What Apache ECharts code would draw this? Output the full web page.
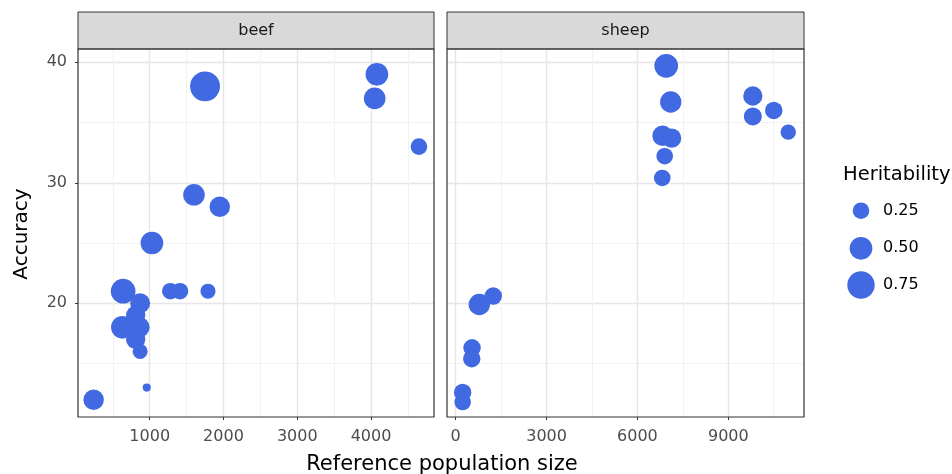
<!DOCTYPE html>
<html>
<head>
<meta charset="utf-8">
<script src="https://cdn.jsdelivr.net/npm/echarts@6/dist/echarts.min.js"></script>
<style>
  html, body { margin: 0; padding: 0; background: #fff; }
  #chart { width: 952px; height: 474px; }
</style>
</head>
<body>
<div id="chart"></div>
<script>
// beef panel
const beefX = [1750, 4080, 4050, 4650, 1600, 1950, 1030, 640, 1280, 1410, 1790, 870, 810, 630, 860, 810, 870, 960, 240];
const beefY = [38, 39, 37, 33, 29, 28, 25, 21, 21, 21, 21, 20, 19, 18, 18, 17, 16, 13, 12];
const beefH = [0.9, 0.5, 0.45, 0.25, 0.45, 0.4, 0.5, 0.6, 0.25, 0.25, 0.2, 0.38, 0.35, 0.5, 0.4, 0.35, 0.2, 0.03, 0.4];

// sheep panel
const sheepX = [6950, 7100, 9810, 10500, 9810, 10980, 6830, 7130, 6900, 6820, 1240, 780, 540, 530, 230, 230];
const sheepY = [39.7, 36.7, 37.2, 36, 35.5, 34.2, 33.9, 33.7, 32.2, 30.4, 20.6, 19.9, 16.3, 15.4, 12.6, 11.8];
const sheepH = [0.55, 0.44, 0.35, 0.28, 0.3, 0.21, 0.4, 0.35, 0.25, 0.25, 0.28, 0.44, 0.28, 0.28, 0.28, 0.25];

const panels = ['beef', 'sheep'];
const beefTicks = [1000, 2000, 3000, 4000];
const sheepTicks = [0, 3000, 6000, 9000];
const accTicks = [20, 30, 40];
const legendValues = [0.25, 0.5, 0.75];

const FONT = 'DejaVu Sans';
const BLUE = '#4169e1';

// point diameter from heritability (area-like scaling)
function dotSize(h) {
  return 2 * Math.sqrt(9.5 + 238 * h);
}

function pts(xs, ys, hs) {
  return xs.map((x, i) => [x, ys[i], hs[i]]);
}

const G = [
  { left: 78, top: 49, width: 356, height: 368 },
  { left: 447, top: 49, width: 357, height: 368 }
];

const chart = echarts.init(document.getElementById('chart'), null, { renderer: 'canvas' });

const majorLine = { show: true, lineStyle: { color: '#e6e6e6', width: 1.4 } };
const minorLine = { show: true, lineStyle: { color: '#f2f2f2', width: 1 } };

function xAxisFor(idx, min, max, split, ticks) {
  return {
    type: 'value', gridIndex: idx, min: min, max: max, splitNumber: split,
    axisLine: { show: false },
    axisTick: { show: true, length: 3, customValues: ticks, lineStyle: { color: '#333', width: 1 } },
    axisLabel: { customValues: ticks, margin: 12, formatter: v => String(v),
      color: '#4d4d4d', fontFamily: FONT, fontSize: 16 },
    splitLine: majorLine,
    minorTick: { show: false, splitNumber: 2 },
    minorSplitLine: minorLine
  };
}

function yAxisFor(idx, showLabels) {
  return {
    type: 'value', gridIndex: idx, min: 10.56, max: 41.1, splitNumber: 3,
    axisLine: { show: false },
    axisTick: { show: showLabels, length: 3, customValues: accTicks, lineStyle: { color: '#333', width: 1 } },
    axisLabel: { show: showLabels, customValues: accTicks, margin: 11, formatter: v => String(v),
      color: '#4d4d4d', fontFamily: FONT, fontSize: 16 },
    splitLine: majorLine,
    minorTick: { show: false, splitNumber: 2 },
    minorSplitLine: minorLine
  };
}

// panel borders + strips
const graphics = [];
G.forEach((g, i) => {
  graphics.push({
    type: 'rect', z: 10, silent: true,
    shape: { x: g.left, y: 12, width: g.width, height: g.top - 12 },
    style: { fill: '#d9d9d9', stroke: '#333', lineWidth: 1 }
  });
  graphics.push({
    type: 'text', z: 11, silent: true,
    x: g.left + g.width / 2, y: 31,
    style: { text: panels[i], textAlign: 'center', textVerticalAlign: 'middle',
      fill: '#1a1a1a', font: '16px "' + FONT + '"' }
  });
  graphics.push({
    type: 'rect', z: 10, silent: true,
    shape: { x: g.left, y: g.top, width: g.width, height: g.height },
    style: { fill: 'none', stroke: '#333', lineWidth: 1.2 }
  });
});

// axis titles
graphics.push({
  type: 'text', z: 11, silent: true, x: 442, y: 465,
  style: { text: 'Reference population size', textAlign: 'center', textVerticalAlign: 'middle',
    fill: '#000', font: '21px "' + FONT + '"' }
});
graphics.push({
  type: 'text', z: 11, silent: true, x: 22, y: 234, rotation: Math.PI / 2,
  style: { text: 'Accuracy', textAlign: 'center', textVerticalAlign: 'middle',
    fill: '#000', font: '20px "' + FONT + '"' }
});

// legend
graphics.push({
  type: 'text', z: 11, silent: true, x: 843, y: 175,
  style: { text: 'Heritability', textAlign: 'left', textVerticalAlign: 'middle',
    fill: '#000', font: '19.5px "' + FONT + '"' }
});
const legendY = [210.7, 248.3, 285];
legendValues.forEach((v, i) => {
  graphics.push({
    type: 'circle', z: 11, silent: true,
    shape: { cx: 861, cy: legendY[i], r: dotSize(v) / 2 },
    style: { fill: BLUE }
  });
  graphics.push({
    type: 'text', z: 11, silent: true, x: 883, y: legendY[i],
    style: { text: v.toFixed(2), textAlign: 'left', textVerticalAlign: 'middle',
      fill: '#000', font: '16px "' + FONT + '"' }
  });
});

const option = {
  animation: false,
  backgroundColor: '#fff',
  grid: G.map(g => Object.assign({ containLabel: false }, g)),
  xAxis: [
    xAxisFor(0, 28, 4854, 5, beefTicks),
    xAxisFor(1, -287, 11499, 4, sheepTicks)
  ],
  yAxis: [yAxisFor(0, true), yAxisFor(1, false)],
  series: [
    {
      name: 'beef', type: 'scatter', xAxisIndex: 0, yAxisIndex: 0,
      data: pts(beefX, beefY, beefH),
      symbolSize: v => dotSize(v[2]),
      itemStyle: { color: BLUE, opacity: 1 }
    },
    {
      name: 'sheep', type: 'scatter', xAxisIndex: 1, yAxisIndex: 1,
      data: pts(sheepX, sheepY, sheepH),
      symbolSize: v => dotSize(v[2]),
      itemStyle: { color: BLUE, opacity: 1 }
    }
  ],
  graphic: graphics
};

chart.setOption(option);
window.addEventListener('resize', () => chart.resize());
</script>
</body>
</html>
